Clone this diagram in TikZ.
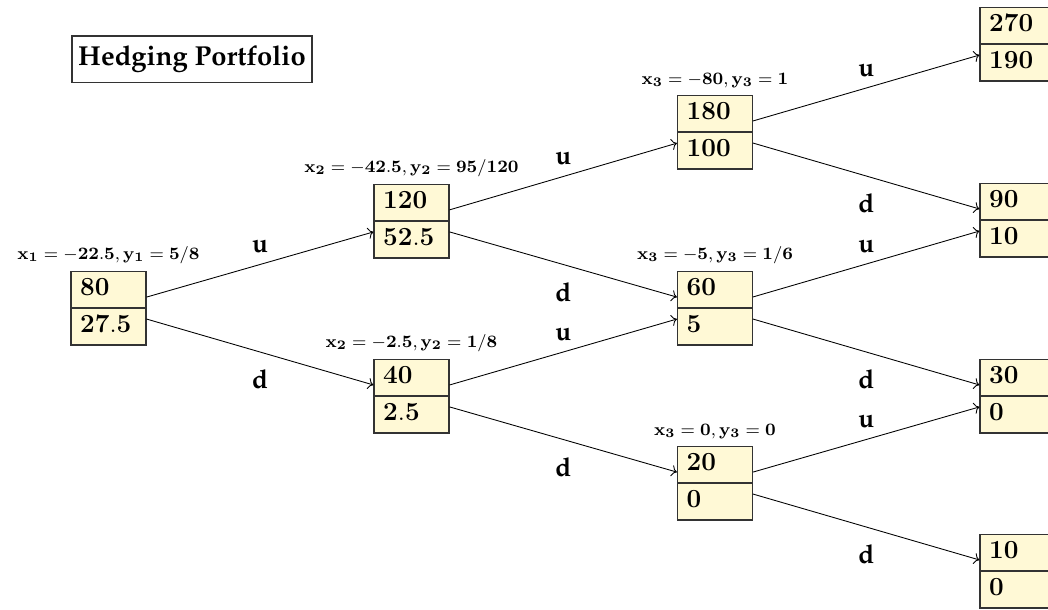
\documentclass[tikz,border=0pt]{standalone}
\usepackage[T1]{fontenc}
\usepackage{palatino}
\usepackage{amsmath}
\usepackage{tikz}
\usetikzlibrary{shapes}
\usetikzlibrary{positioning}
\usetikzlibrary{arrows.meta,arrows}
\DeclareSymbolFont{operators}{OT1}{cmr}{m}{n}
\DeclareMathAlphabet{\mathbf}{OT1}{cmr}{bx}{n}
\definecolor{boxfill}{RGB}{255,249,214}
\newcommand{\ccA}{108.5}
\newcommand{\ccB}{411.5}
\newcommand{\ccC}{715}
\newcommand{\ccD}{1017.5}
\newcommand{\vals}[2]{\rule[-5.5pt]{0pt}{16.5pt}$\mathbf{#1}$\nodepart{two}\rule[-5.5pt]{0pt}{16.5pt}$\mathbf{#2}$}

\begin{document}
\begin{tikzpicture}[x=0.46pt, y=-0.46pt,
		state/.style={rectangle split, rectangle split parts=2, draw=black!80, fill=boxfill, line width=0.5pt,
			text width=26pt, align=left, inner xsep=4.25pt, inner ysep=0pt, font=\large},
		info/.style={font=\fontsize{8.5pt}{10pt}\selectfont, inner sep=0pt},
		move/.style={font=\large\bfseries, inner sep=0pt}]
		
		\useasboundingbox (0,0) rectangle (1048,609);
		
		\node[draw=black!80, line width=0.5pt, font=\fontsize{12.6pt}{15pt}\selectfont\bfseries, minimum width=110.4pt, minimum height=21.2pt, inner sep=0pt] (title) at (192, 59) {Hedging Portfolio};
		
		% t = 0
		\node[state] (n0) at (\ccA, 308) {\vals{80}{27.5}};
		% t = 1
		\node[state] (u1) at (\ccB, 221) {\vals{120}{52.5}};
		\node[state] (d1) at (\ccB, 396) {\vals{40}{2.5}};
		% t = 2
		\node[state] (uu2) at (\ccC, 132) {\vals{180}{100}};
		\node[state] (ud2) at (\ccC, 308) {\vals{60}{5}};
		\node[state] (dd2) at (\ccC, 483) {\vals{20}{0}};
		% t = 3
		\node[state] (uuu3) at (\ccD, 44) {\vals{270}{190}};
		\node[state] (uud3) at (\ccD, 220) {\vals{90}{10}};
		\node[state] (udd3) at (\ccD, 396) {\vals{30}{0}};
		\node[state] (ddd3) at (\ccD, 571) {\vals{10}{0}};
		
		% portfolio weights
		\node[info, above=3pt of n0] (w0) {$\mathbf{x_1 = -22.5, y_1 = 5/8}$};
		\node[info, above=3pt of u1] (wu1) {$\mathbf{x_2 = -42.5, y_2 = 95/120}$};
		\node[info, above=3pt of d1] (wd1) {$\mathbf{x_2 = -2.5, y_2 = 1/8}$};
		\node[info, above=3pt of uu2] (wuu2) {$\mathbf{x_3 = -80, y_3 = 1}$};
		\node[info, above=3pt of ud2] (wud2) {$\mathbf{x_3 = -5, y_3 = 1/6}$};
		\node[info, above=3pt of dd2] (wdd2) {$\mathbf{x_3 = 0, y_3 = 0}$};
		
		% moves
		\draw[->] (n0) -- (u1) node[move, midway, above=5pt] {u};
		\draw[->] (n0) -- (d1) node[move, midway, below=8pt] {d};
		\draw[->] (u1) -- (uu2) node[move, midway, above=5pt] {u};
		\draw[->] (u1) -- (ud2) node[move, midway, below=8pt] {d};
		\draw[->] (d1) -- (ud2) node[move, midway, above=5pt] {u};
		\draw[->] (d1) -- (dd2) node[move, midway, below=8pt] {d};
		\draw[->] (uu2) -- (uuu3) node[move, midway, above=5pt] {u};
		\draw[->] (uu2) -- (uud3) node[move, midway, below=8pt] {d};
		\draw[->] (ud2) -- (uud3) node[move, midway, above=5pt] {u};
		\draw[->] (ud2) -- (udd3) node[move, midway, below=8pt] {d};
		\draw[->] (dd2) -- (udd3) node[move, midway, above=5pt] {u};
		\draw[->] (dd2) -- (ddd3) node[move, midway, below=8pt] {d};
	\end{tikzpicture}
\end{document}
